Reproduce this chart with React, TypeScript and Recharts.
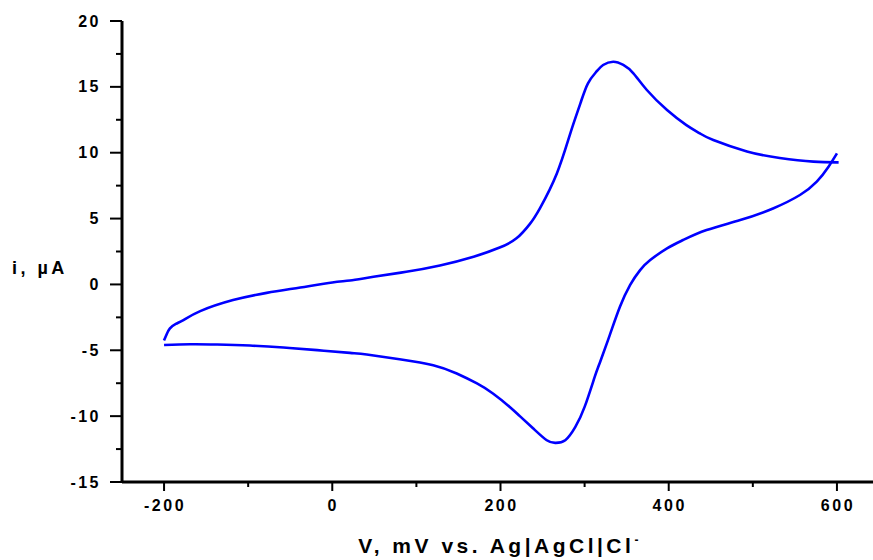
import React from 'react';
import { LineChart, Line, XAxis, YAxis } from 'recharts';

// forward scan (anodic branch), potential in mV and current in µA
const fwdV = [-200, -197, -193, -186, -177, -157, -118, -78, -38, 0, 21, 49, 88, 128, 168, 199, 219, 235, 247, 267, 283, 295, 304, 314, 322, 334, 346, 358, 374, 398, 421, 437, 453, 493, 532, 572, 602];
const fwdI = [-4.25, -3.8, -3.34, -3.0, -2.71, -2.03, -1.19, -0.64, -0.23, 0.15, 0.3, 0.58, 0.96, 1.44, 2.1, 2.8, 3.5, 4.6, 5.8, 8.43, 11.47, 13.75, 15.27, 16.15, 16.66, 16.91, 16.66, 16.03, 14.76, 13.24, 12.1, 11.47, 10.96, 10.1, 9.6, 9.32, 9.27];

// reverse scan (cathodic branch)
const revV = [-200, -169, -137, -98, -58, -18, 21, 41, 80, 120, 148, 172, 191, 211, 223, 239, 255, 265, 277, 289, 300, 312, 318, 330, 342, 354, 366, 378, 398, 417, 445, 485, 524, 556, 576, 590, 600];
const revI = [-4.6, -4.54, -4.56, -4.64, -4.79, -4.99, -5.2, -5.32, -5.68, -6.13, -6.76, -7.52, -8.28, -9.3, -10.0, -10.94, -11.83, -12.03, -11.83, -10.82, -9.3, -7.02, -5.96, -3.83, -1.7, -0.05, 1.09, 1.85, 2.74, 3.37, 4.13, 4.89, 5.77, 6.79, 7.8, 8.94, 9.95];

const xTicks = [-200, -100, 0, 100, 200, 300, 400, 500, 600];
const yTicks = [-15, -12.5, -10, -7.5, -5, -2.5, 0, 2.5, 5, 7.5, 10, 12.5, 15, 17.5, 20];

const fwd = fwdV.map((v, k) => ({ v, i: fwdI[k] }));
const rev = revV.map((v, k) => ({ v, i: revI[k] }));

const font = '"Liberation Sans", Arial, sans-serif';

const YTick = (props: any) => {
  const { x, y, payload } = props;
  const major = payload.value % 5 === 0;
  return (
    <g>
      <line x1={x - (major ? 12 : 6)} x2={x} y1={y} y2={y} stroke="#000" strokeWidth={2} />
      {major && (
        <text x={x - 21} y={y} dy={5.5} textAnchor="end" fontFamily={font} fontWeight="bold" fontSize={16} letterSpacing={2.5} fill="#000">
          {payload.value}
        </text>
      )}
    </g>
  );
};

const XTick = (props: any) => {
  const { x, y, payload } = props;
  const major = payload.value % 200 === 0;
  return (
    <g>
      <line x1={x} x2={x} y1={y} y2={y + (major ? 9 : 5)} stroke="#000" strokeWidth={2} />
      {major && (
        <text x={x + 1} y={y + 29} textAnchor="middle" fontFamily={font} fontWeight="bold" fontSize={16} letterSpacing={2.5} fill="#000">
          {payload.value}
        </text>
      )}
    </g>
  );
};

const TopTick = (props: any) => {
  const { x, y } = props;
  return <line x1={x} x2={x} y1={y} y2={y + 2} stroke="#555" strokeWidth={1} />;
};

export default function App() {
  return (
    <div style={{ position: 'fixed', left: 0, top: 0, width: 873, height: 560, overflow: 'hidden', background: '#fff' }}>
      <LineChart width={880} height={560} margin={{ top: 21, right: 1, bottom: 0, left: 0 }}>
        <XAxis
          xAxisId="top"
          orientation="top"
          type="number"
          dataKey="v"
          domain={[-250, 650]}
          ticks={xTicks}
          height={0}
          tickSize={0}
          tickMargin={0}
          tickLine={false}
          tick={<TopTick />}
          axisLine={{ stroke: '#222', strokeWidth: 2 }}
          allowDataOverflow
        />
        <XAxis
          type="number"
          dataKey="v"
          domain={[-250, 650]}
          ticks={xTicks}
          height={78}
          tickSize={0}
          tickMargin={0}
          tickLine={false}
          tick={<XTick />}
          axisLine={{ stroke: '#000', strokeWidth: 3 }}
          allowDataOverflow
        />
        <YAxis
          type="number"
          domain={[-15, 20]}
          ticks={yTicks}
          width={122}
          tickSize={0}
          tickMargin={0}
          tickLine={false}
          tick={<YTick />}
          axisLine={{ stroke: '#000', strokeWidth: 3 }}
          allowDataOverflow
        />
        <Line data={fwd} dataKey="i" type="natural" stroke="#0000ff" strokeWidth={2.6} dot={false} isAnimationActive={false} />
        <Line data={rev} dataKey="i" type="natural" stroke="#0000ff" strokeWidth={2.6} dot={false} isAnimationActive={false} />
        <text x={12} y={274} fontFamily={font} fontWeight="bold" fontSize={18} letterSpacing={3.5} fill="#000">
          i, µA
        </text>
        <text x={500} y={553} textAnchor="middle" fontFamily={font} fontWeight="bold" fontSize={21} letterSpacing={3.5} fill="#000">
          V, mV vs. Ag|AgCl|Cl<tspan dy={-9} fontSize={12}>-</tspan>
        </text>
      </LineChart>
    </div>
  );
}
